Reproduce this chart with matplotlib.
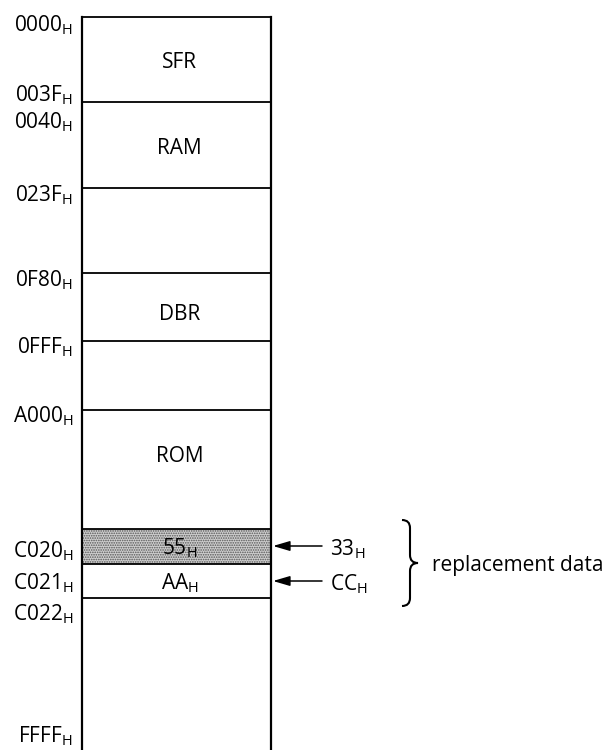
import matplotlib
matplotlib.use("Agg")
import matplotlib.pyplot as plt
from matplotlib.patches import Rectangle, PathPatch
from matplotlib.path import Path

plt.rcParams['font.family'] = ['Open Sans', 'DejaVu Sans']
plt.rcParams['mathtext.fontset'] = 'custom'
plt.rcParams['mathtext.rm'] = 'Open Sans'
plt.rcParams['mathtext.it'] = 'Open Sans'
plt.rcParams['hatch.linewidth'] = 0.8

# Address labels on the left (text before subscript H) and their row y (pixels)
addr_labels = ["0000", "003F", "0040", "023F", "0F80", "0FFF", "A000",
               "C020", "C021", "C022", "FFFF"]
addr_y = [25, 95, 122, 195, 280, 347, 416, 551, 583, 614, 736]

# Horizontal boundary lines inside the memory column (pixels)
boundaries = [17, 102, 188, 273, 341, 410, 529, 564, 598]

# Region names and their centre y
regions = ["SFR", "RAM", "DBR", "ROM"]
region_y = [62, 148, 314, 457]

# Replacement cells
cell_values = ["55", "AA"]
new_values = ["33", "CC"]
cell_y = [546, 581]

W, H = 608, 750
fig = plt.figure(figsize=(W / 100, H / 100), dpi=100)
ax = fig.add_axes([0, 0, 1, 1])
ax.set_xlim(0, W)
ax.set_ylim(H, 0)
ax.axis('off')

xl, xr = 82, 271
lw = 1.3
fs = 15

# shaded cell
ax.add_patch(Rectangle((xl, boundaries[6]), xr - xl, boundaries[7] - boundaries[6],
                       facecolor='#cfcfcf', edgecolor='#555555', hatch='.......',
                       linewidth=0, zorder=1))

# vertical sides
ax.plot([xl, xl], [boundaries[0], H], color='black', lw=1.6, zorder=3)
ax.plot([xr, xr], [boundaries[0], H], color='black', lw=1.6, zorder=3)
for y in boundaries:
    ax.plot([xl, xr], [y, y], color='black', lw=lw, zorder=3)

for lab, y in zip(addr_labels, addr_y):
    ax.text(73, y, lab + r"$_{\mathrm{H}}$", ha='right', va='center', fontsize=fs)

cx = (xl + xr) / 2
for lab, y in zip(regions, region_y):
    ax.text(cx + 3, y, lab, ha='center', va='center', fontsize=fs)

for v, nv, y in zip(cell_values, new_values, cell_y):
    ax.text(cx + 3, y + 2, v + r"$_{\mathrm{H}}$", ha='center', va='center', fontsize=fs)
    ax.annotate("", xy=(xr + 2, y), xytext=(322, y),
                arrowprops=dict(arrowstyle='-|>,head_length=0.85,head_width=0.25',
                                color='black', lw=1.1,
                                mutation_scale=12, shrinkA=0, shrinkB=0))
    ax.text(330, y + 3, nv + r"$_{\mathrm{H}}$", ha='left', va='center', fontsize=fs)

# brace
bx0, bx1, bx2 = 402, 410, 418
by0, bym, by1 = 520, 563, 606
verts = [(bx0, by0), (bx1, by0), (bx1, by0 + 8),
         (bx1, bym - 8),
         (bx1, bym), (bx2, bym),
         (bx1, bym), (bx1, bym + 8),
         (bx1, by1 - 8),
         (bx1, by1), (bx0, by1)]
codes = [Path.MOVETO, Path.CURVE3, Path.CURVE3,
         Path.LINETO,
         Path.CURVE3, Path.CURVE3,
         Path.CURVE3, Path.CURVE3,
         Path.LINETO,
         Path.CURVE3, Path.CURVE3]
ax.add_patch(PathPatch(Path(verts, codes), facecolor='none', edgecolor='black', lw=1.5))
ax.text(432, 566, "replacement data", ha='left', va='center', fontsize=fs)

fig.savefig("out.png", dpi=100)
